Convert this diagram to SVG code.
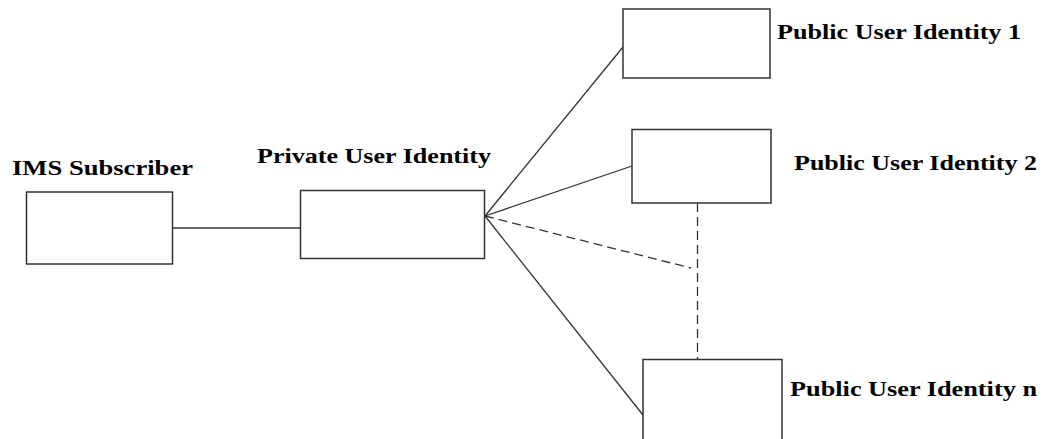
<svg xmlns="http://www.w3.org/2000/svg" width="1045" height="439" viewBox="0 0 1045 439">
  <style>
    .box { fill: #ffffff; stroke: #333333; stroke-width: 1.5; }
    .link { fill: none; stroke: #333333; stroke-width: 1.3; }
    .dash { stroke-dasharray: 9 5; }
    .label { font-family: "Liberation Serif", "Times New Roman", serif; font-weight: bold; font-size: 21.5px; fill: #000000; }
  </style>
  <rect width="1045" height="439" fill="#ffffff"/>

  <g id="connectors">
    <line class="link" x1="172" y1="228" x2="301" y2="228"/>
    <line class="link" x1="485" y1="216" x2="623" y2="47"/>
    <line class="link" x1="485" y1="216" x2="632" y2="166"/>
    <line class="link dash" x1="485" y1="216" x2="691" y2="268"/>
    <line class="link" x1="485" y1="216" x2="643" y2="415"/>
    <line class="link dash" x1="697.5" y1="203" x2="697.5" y2="363"/>
  </g>

  <g id="ims-subscriber">
    <rect class="box" x="26.5" y="192" width="146" height="72"/>
    <text class="label" x="12" y="175" textLength="181" lengthAdjust="spacingAndGlyphs">IMS Subscriber</text>
  </g>

  <g id="private-user-identity">
    <rect class="box" x="300.5" y="190.5" width="184" height="68"/>
    <text class="label" x="257" y="162.5" textLength="234" lengthAdjust="spacingAndGlyphs">Private User Identity</text>
  </g>

  <g id="public-user-identity-1">
    <rect class="box" x="623" y="9" width="147" height="69"/>
    <text class="label" x="777" y="38.5" textLength="244" lengthAdjust="spacingAndGlyphs">Public User Identity 1</text>
  </g>

  <g id="public-user-identity-2">
    <rect class="box" x="632" y="129.5" width="139" height="73.5"/>
    <text class="label" x="794" y="169.5" textLength="243" lengthAdjust="spacingAndGlyphs">Public User Identity 2</text>
  </g>

  <g id="public-user-identity-n">
    <rect class="box" x="643" y="359.5" width="139" height="100"/>
    <text class="label" x="790" y="396" textLength="247" lengthAdjust="spacingAndGlyphs">Public User Identity n</text>
  </g>
</svg>
